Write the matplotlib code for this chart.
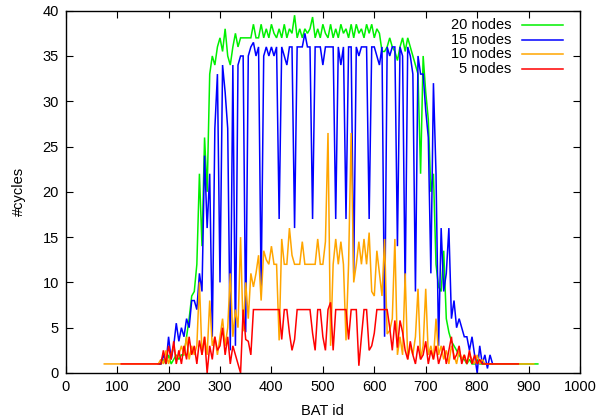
import matplotlib
matplotlib.use("Agg")
import matplotlib.pyplot as plt
from matplotlib.ticker import MultipleLocator

plt.rcParams['font.family'] = ['Liberation Sans', 'DejaVu Sans']

# BAT ids sampled every 5 from 180 to 880
grid_start, grid_stop, grid_step = 180, 880, 5
bat_ids = list(range(grid_start, grid_stop + 1, grid_step))

nodes20 = [1, 1, 1.5, 1, 2, 1, 1.5, 2, 1.5, 2,
           2, 4, 6, 8.5, 9, 12, 22, 14, 26, 20,
           33, 35, 34, 36, 37, 35.5, 38, 35, 34, 36,
           37.5, 36, 37, 37, 37, 37, 37, 38.5, 37, 37,
           38.5, 37, 38, 37, 38.5, 37.5, 37, 38, 37, 38.5,
           37, 38, 37.5, 39.5, 37, 38, 37, 38, 37.5, 38,
           39.3, 37, 38, 37, 38.5, 37.5, 37, 38.5, 37, 38,
           37, 38.5, 37.5, 38, 37, 38.5, 37, 38.5, 37.5, 38,
           37, 38.5, 37.5, 38.5, 37, 38, 37.5, 35.5, 35.5, 36,
           37, 36, 35.5, 34.5, 36, 37, 35.5, 37, 36, 35,
           34, 33, 22, 35, 31, 28, 20, 22, 12, 9.5,
           9, 13.5, 6, 4.5, 3.5, 3, 2.5, 2, 1.5, 1.5,
           1, 1.5, 1, 1, 1.5, 1, 1, 1, 1, 1,
           1, 1, 1, 1, 1, 1, 1, 1, 1, 1,
           1]
nodes20_tail = (918, 1)

nodes15 = [1, 1, 2, 1, 4, 1.5, 3, 5.5, 3.5, 5,
           4, 6, 5, 8, 8, 7, 11, 9, 24, 16,
           22, 4, 27, 33, 10, 34, 31, 27, 2.5, 34,
           3, 34, 35, 35, 4.5, 35, 36, 36.5, 35, 36,
           9, 35, 36, 35, 36, 35, 36, 17, 36, 35,
           34, 36, 36, 16, 36, 36, 36, 37.5, 36, 36,
           17, 36, 36, 36, 34, 36, 36, 36, 36, 17,
           36, 34, 36, 17, 36, 36, 11, 36, 35, 36,
           36, 36, 17, 36, 36, 35, 34, 36, 4, 36,
           35, 36, 36, 14, 36, 35, 9, 36, 35, 33,
           9, 35, 33, 33, 29, 26, 11, 32, 22, 3,
           16, 9, 11, 16, 6, 8, 5, 6, 5, 4,
           4, 2.5, 4, 2, 0, 3, 1, 2, 0.5, 2,
           1]

nodes10_head = (75, 1)
nodes10 = [1, 1.5, 1, 2.5, 1, 2, 3, 1.5, 2, 3,
           2, 4, 1.5, 3, 2, 3, 10, 2, 4, 2,
           8, 3, 4, 2, 4, 6, 3, 5, 11, 4,
           7, 5, 15, 4.6, 10, 6, 11, 9.5, 11, 13,
           8, 13.5, 12.5, 12, 14, 12, 12, 3.6, 14.8, 12,
           12, 16, 13, 12, 12, 12, 14.5, 12, 12, 12,
           12, 12, 14.8, 12, 12, 14.5, 26.5, 3, 12, 14.8,
           12, 14.5, 12, 3.6, 12, 26.5, 10, 12, 14.5, 12,
           14.8, 12, 15.5, 9, 8.5, 13.5, 11, 8.5, 14.8, 4.3,
           4.7, 6, 14.8, 2, 4, 2, 11, 1.5, 3, 2,
           4, 9.3, 1.5, 3, 9.3, 2, 3, 1.5, 6, 2,
           3, 1.5, 2.5, 1, 3, 2, 1, 2.5, 1.5, 2,
           1, 2, 1.5, 1, 2, 1, 1.5, 1, 1, 1,
           1, 1, 1, 1, 1, 1, 1, 1, 1, 1,
           1]
nodes10_tail = (910, 1)

nodes5_head = (108, 1)
nodes5 = [1, 1, 2.5, 1, 3, 1.5, 3.5, 1, 2.5, 1,
          3, 1.5, 4, 2, 3, 1, 3.6, 2, 4, 0,
          3, 1.5, 4, 2.5, 3, 5, 2, 4, 1, 3,
          2, 1, 0, 7, 3.7, 3.5, 2, 7, 7, 7,
          7, 7, 7, 7, 7, 7, 7, 7, 3.7, 7,
          7, 4.4, 2.5, 3.7, 7, 7, 7, 7, 7, 7,
          4.4, 2.5, 7, 7, 4, 2.5, 7, 7.8, 2.5, 7,
          7, 7, 7, 7, 3.7, 7, 7, 7, 0.8, 4,
          7, 7, 2.5, 3, 4.4, 7, 7, 7, 7, 7,
          5, 2.5, 5.8, 2.8, 5.8, 4.5, 2.5, 1.5, 3.5, 2,
          1, 3, 1.5, 2, 3.5, 1, 2.5, 1.5, 3, 1,
          2, 3, 1, 2.5, 4, 1.5, 2, 3, 1, 2,
          1, 2.5, 1, 2, 1, 1.5, 1, 1, 1, 1,
          1, 1, 1, 1, 1, 1, 1, 1, 1, 1,
          1]

series = [
    ("20 nodes", "#00f000", None, nodes20, nodes20_tail),
    ("15 nodes", "#0000ff", None, nodes15, None),
    ("10 nodes", "#ffa500", nodes10_head, nodes10, nodes10_tail),
    ("5 nodes", "#ff0000", nodes5_head, nodes5, None),
]

fig = plt.figure(figsize=(6.0, 4.19), dpi=100)
ax = fig.add_axes([0.1095, 0.1098, 0.8572, 0.8647])

legend_y = [0.961, 0.919, 0.880, 0.839]
for (label, color, head, vals, tail), ly in zip(series, legend_y):
    xs = bat_ids[:len(vals)]
    ys = list(vals)
    if head is not None:
        xs = [head[0]] + xs
        ys = [head[1]] + ys
    if tail is not None:
        xs = xs + [tail[0]]
        ys = ys + [tail[1]]
    ax.plot(xs, ys, color=color, lw=1.1, solid_joinstyle='miter')
    ax.text(0.867, ly, label, transform=ax.transAxes, ha='right', va='center', fontsize=10.5)
    ax.plot([0.8866, 0.967], [ly, ly], transform=ax.transAxes, color=color, lw=1.1)

ax.set_xlim(0, 1000)
ax.set_ylim(0, 40)
ax.xaxis.set_major_locator(MultipleLocator(100))
ax.yaxis.set_major_locator(MultipleLocator(5))
ax.tick_params(direction='in', length=5, width=0.8, top=True, right=True, labelsize=10.5, pad=5)
for s in ax.spines.values():
    s.set_linewidth(1.0)
ax.set_xlabel("BAT id", fontsize=10.5, labelpad=7)
ax.set_ylabel("#cycles", fontsize=10.5, labelpad=12)

fig.savefig("out.png", dpi=100)
